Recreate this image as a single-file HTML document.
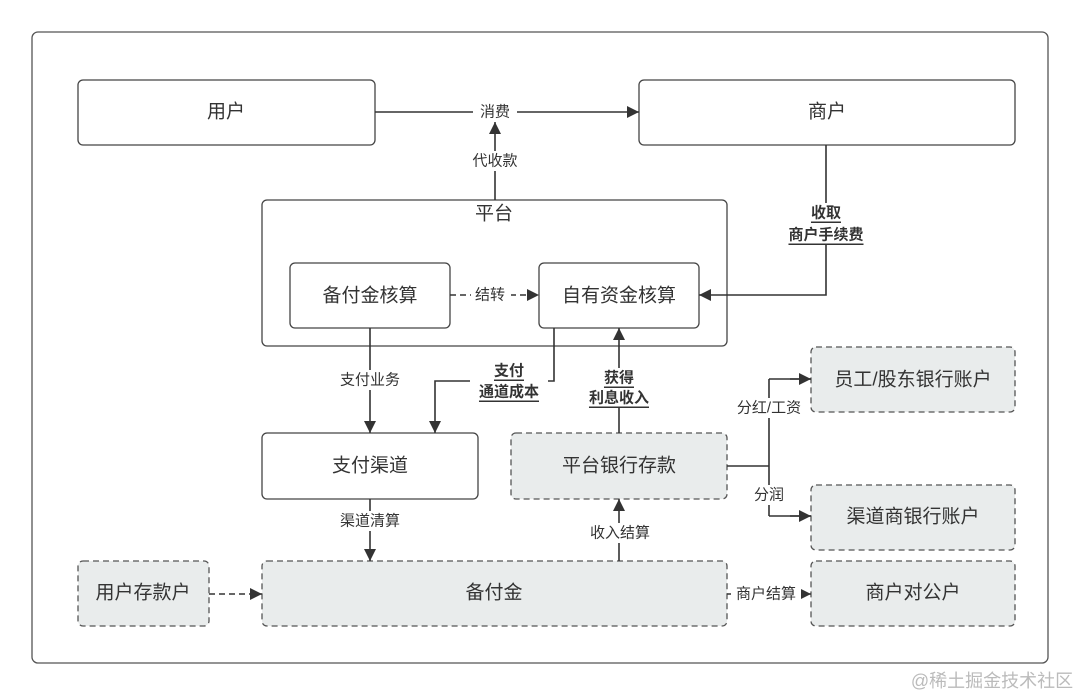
<!DOCTYPE html>
<html><head><meta charset="utf-8"><style>
html,body{margin:0;padding:0;background:#fff;}
svg{display:block;}
text{font-family:"Liberation Sans","Noto Sans CJK SC",sans-serif;fill:#333;text-anchor:middle;dominant-baseline:central;}
.b{fill:#fff;stroke:#444;stroke-width:1.3;}
.g{fill:#e9ecec;stroke:#555;stroke-width:1.3;stroke-dasharray:6 4;}
.l{fill:none;stroke:#333;stroke-width:1.6;}
.d{fill:none;stroke:#333;stroke-width:1.6;stroke-dasharray:6 4;}
.t{font-size:19px;}
.s{font-size:15px;}
.u{font-size:15px;font-weight:bold;text-decoration:underline;}
.lb{fill:#fff;stroke:none;}
</style></head><body>
<svg width="1080" height="695" viewBox="0 0 1080 695" xmlns="http://www.w3.org/2000/svg">
<defs><marker id="A" viewBox="0 0 10 10" refX="10" refY="5" markerWidth="14" markerHeight="12" markerUnits="userSpaceOnUse" orient="auto"><path d="M0,0L10,5L0,10z" fill="#333"/></marker></defs>
<rect x="32" y="32" width="1016" height="631" rx="6" fill="#fff" stroke="#555" stroke-width="1.3"/>
<rect class="b" x="78" y="80" width="297" height="65" rx="5"/><text class="t" x="226" y="112">用户</text>
<rect class="b" x="639" y="80" width="376" height="65" rx="5"/><text class="t" x="827" y="112">商户</text>
<rect class="b" x="262" y="200" width="465" height="146" rx="5"/><text class="t" x="494" y="214">平台</text>
<rect class="b" x="290" y="263" width="160" height="65" rx="5"/><text class="t" x="370" y="296">备付金核算</text>
<rect class="b" x="539" y="263" width="160" height="65" rx="5"/><text class="t" x="619" y="296">自有资金核算</text>
<rect class="b" x="262" y="433" width="216" height="66" rx="5"/><text class="t" x="370" y="466">支付渠道</text>
<rect class="g" x="511" y="433" width="216" height="66" rx="5"/><text class="t" x="619" y="466">平台银行存款</text>
<rect class="g" x="811" y="347" width="204" height="65" rx="5"/><text class="t" x="913" y="380">员工/股东银行账户</text>
<rect class="g" x="811" y="485" width="204" height="65" rx="5"/><text class="t" x="913" y="517">渠道商银行账户</text>
<rect class="g" x="811" y="561" width="204" height="65" rx="5"/><text class="t" x="913" y="593">商户对公户</text>
<rect class="g" x="262" y="561" width="465" height="65" rx="5"/><text class="t" x="494" y="593">备付金</text>
<rect class="g" x="78" y="561" width="131" height="65" rx="5"/><text class="t" x="143" y="593">用户存款户</text>
<path class="l" d="M375,112H639" marker-end="url(#A)"/>
<rect class="lb" x="473" y="103" width="44" height="18"/><text class="s" x="495" y="112">消费</text>
<path class="l" d="M495,200V122" marker-end="url(#A)"/>
<rect class="lb" x="468" y="151" width="54" height="20"/><text class="s" x="495" y="161">代收款</text>
<path class="l" d="M826,145V295H699" marker-end="url(#A)"/>
<rect class="lb" x="778" y="203" width="96" height="42"/><text class="u" x="826" y="213">收取</text><text class="u" x="826" y="235">商户手续费</text>
<path class="d" d="M450,295H539" marker-end="url(#A)"/>
<rect class="lb" x="471" y="286" width="40" height="18"/><text class="s" x="490" y="295">结转</text>
<path class="l" d="M370,328V433" marker-end="url(#A)"/>
<rect class="lb" x="332" y="370" width="76" height="20"/><text class="s" x="370" y="380">支付业务</text>
<path class="l" d="M554,328V381H435V433" marker-end="url(#A)"/>
<rect class="lb" x="470" y="362" width="78" height="40"/><text class="u" x="509" y="371">支付</text><text class="u" x="509" y="392">通道成本</text>
<path class="l" d="M619,433V328" marker-end="url(#A)"/>
<rect class="lb" x="582" y="368" width="74" height="40"/><text class="u" x="619" y="378">获得</text><text class="u" x="619" y="398">利息收入</text>
<path class="l" d="M727,466H769M769,379V516M769,379H811M769,516H811"/>
<path class="l" d="M790,379H811" marker-end="url(#A)"/><path class="l" d="M790,516H811" marker-end="url(#A)"/>
<rect class="lb" x="732" y="398" width="74" height="20"/><text class="s" x="769" y="408">分红/工资</text>
<rect class="lb" x="751" y="485" width="36" height="20"/><text class="s" x="769" y="495">分润</text>
<path class="l" d="M370,499V561" marker-end="url(#A)"/>
<rect class="lb" x="332" y="511" width="76" height="20"/><text class="s" x="370" y="521">渠道清算</text>
<path class="l" d="M619,561V499" marker-end="url(#A)"/>
<rect class="lb" x="582" y="523" width="76" height="20"/><text class="s" x="620" y="533">收入结算</text>
<path class="d" d="M209,594H262" marker-end="url(#A)"/>
<path class="l" d="M727,594H811" marker-end="url(#A)"/>
<rect class="lb" x="731" y="585" width="70" height="18"/><text class="s" x="766" y="594">商户结算</text>
<text x="992" y="681" style="font-size:18px;fill:#bbb;">@稀土掘金技术社区</text>
</svg>
</body></html>
